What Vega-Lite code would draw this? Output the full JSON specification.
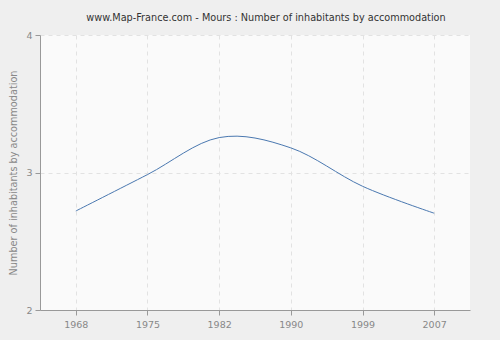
{
  "$schema": "https://vega.github.io/schema/vega-lite/v6.json",
  "width": 430,
  "height": 275,
  "autosize": {"type": "none"},
  "padding": {"left": 40, "top": 35, "right": 30, "bottom": 30},
  "background": "#efefef",
  "title": {
    "text": "www.Map-France.com - Mours : Number of inhabitants by accommodation",
    "font": "DejaVu Sans",
    "fontSize": 9.7,
    "fontWeight": "normal",
    "color": "#333333",
    "anchor": "middle",
    "dx": 11,
    "offset": 7
  },
  "data": {
    "values": [
      {"year": "1968", "value": 2.72},
      {"year": "1975", "value": 2.985},
      {"year": "1982", "value": 3.254},
      {"year": "1990", "value": 3.179},
      {"year": "1999", "value": 2.9},
      {"year": "2007", "value": 2.704}
    ]
  },
  "mark": {"type": "line", "interpolate": "cardinal", "color": "#4a78b0", "strokeWidth": 1},
  "encoding": {
    "x": {
      "field": "year",
      "type": "ordinal",
      "scale": {"type": "point", "padding": 0.5},
      "axis": {
        "title": null,
        "labelAngle": 0,
        "grid": true,
        "gridDash": [4, 4],
        "gridColor": "#e2e2e2",
        "domainColor": "#999999",
        "tickColor": "#999999",
        "tickSize": 5,
        "labelColor": "#888888",
        "labelFont": "DejaVu Sans",
        "labelFontSize": 9.5,
        "labelPadding": 4
      }
    },
    "y": {
      "field": "value",
      "type": "quantitative",
      "scale": {"domain": [2, 4], "nice": false, "zero": false},
      "axis": {
        "title": "Number of inhabitants by accommodation",
        "values": [2, 3, 4],
        "format": ".0f",
        "grid": true,
        "gridDash": [4, 4],
        "gridColor": "#e2e2e2",
        "domainColor": "#999999",
        "tickColor": "#999999",
        "tickSize": 5,
        "labelColor": "#888888",
        "labelFont": "DejaVu Sans",
        "labelFontSize": 9.5,
        "labelPadding": 3,
        "titleColor": "#888888",
        "titleFont": "DejaVu Sans",
        "titleFontSize": 9.7,
        "titleFontWeight": "normal",
        "titlePadding": 7
      }
    }
  },
  "config": {
    "view": {"fill": "#fafafa", "stroke": null}
  }
}
